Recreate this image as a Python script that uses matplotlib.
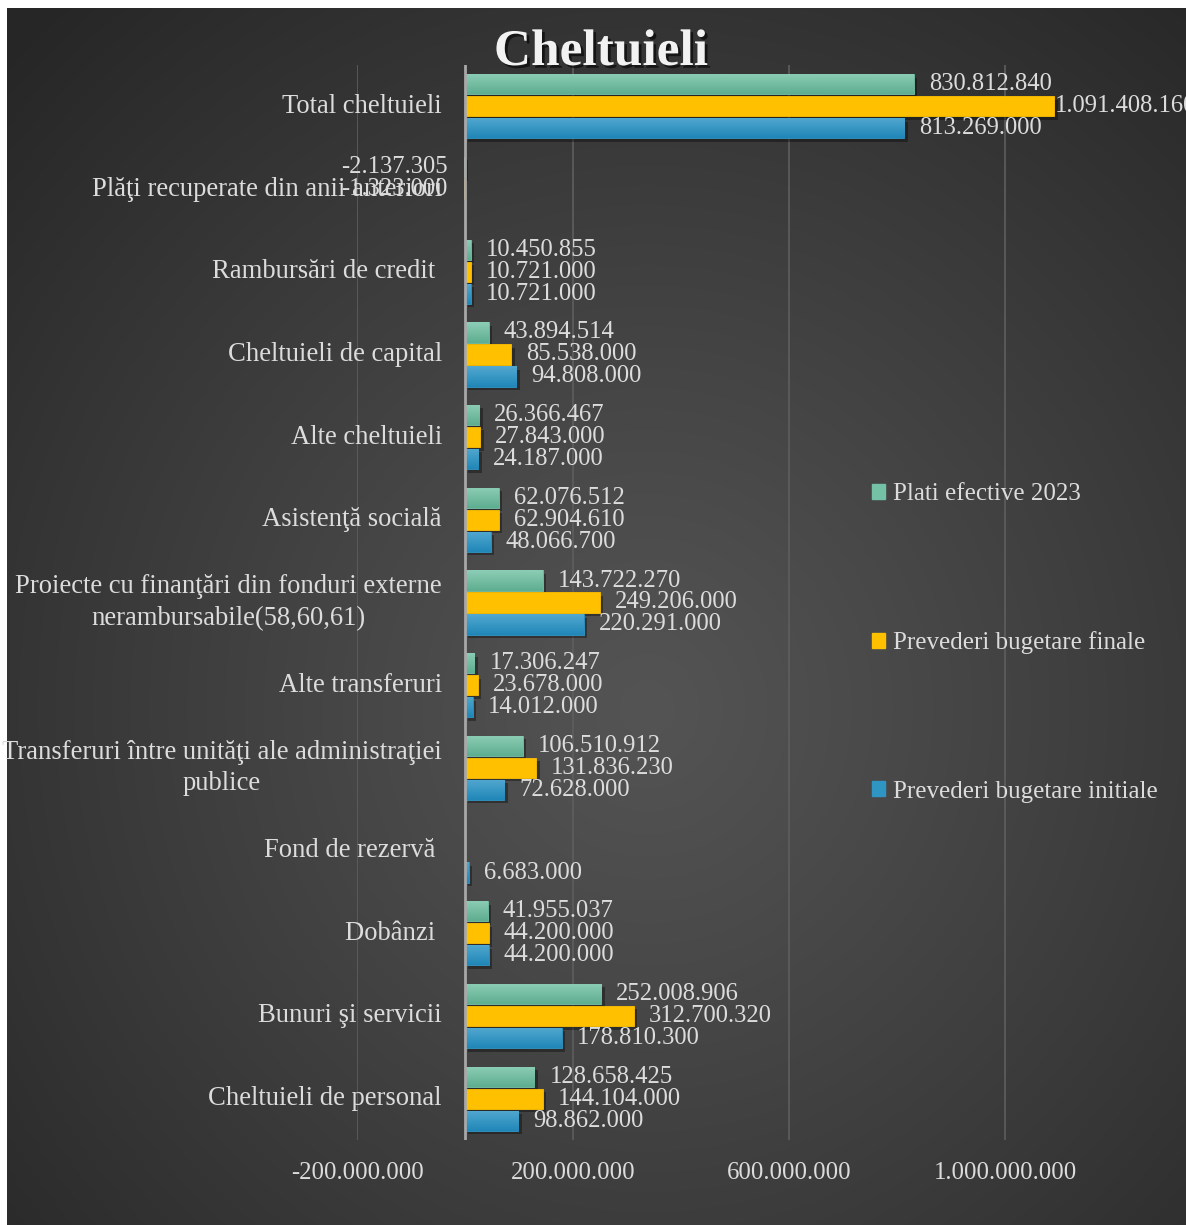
import numpy as np
import matplotlib
matplotlib.use("Agg")
import matplotlib.pyplot as plt
import matplotlib.patheffects as pe
from matplotlib.patches import Patch
from matplotlib.colors import to_rgb

# date din grafic (de jos in sus)
categorii = [
    "Cheltuieli de personal",
    "Bunuri şi servicii",
    "Dobânzi ",
    "Fond de rezervă ",
    "Transferuri între unităţi ale administraţiei\npublice",
    "Alte transferuri",
    "Proiecte cu finanţări din fonduri externe\nnerambursabile(58,60,61)",
    "Asistenţă socială",
    "Alte cheltuieli",
    "Cheltuieli de capital",
    "Rambursări de credit ",
    "Plăţi recuperate din anii anteriori",
    "Total cheltuieli",
]
plati_efective = [128658425, 252008906, 41955037, np.nan, 106510912, 17306247,
                  143722270, 62076512, 26366467, 43894514, 10450855, -2137305, 830812840]
prevederi_finale = [144104000, 312700320, 44200000, np.nan, 131836230, 23678000,
                    249206000, 62904610, 27843000, 85538000, 10721000, -1323000, 1091408160]
prevederi_initiale = [98862000, 178810300, 44200000, 6683000, 72628000, 14012000,
                      220291000, 48066700, 24187000, 94808000, 10721000, np.nan, 813269000]
serii = ["Plati efective 2023", "Prevederi bugetare finale", "Prevederi bugetare initiale"]
culori = ["#74c1a5", "#ffc000", "#2f95c3"]
# gradient sus/jos pentru bare (None = culoare plina)
gradiente = [("#8ccdb5", "#5fae91"), None, ("#52a8d0", "#2187b8")]
x_ticks = [-200000000, 200000000, 600000000, 1000000000]

W, H = 1186, 1225
fig = plt.figure(figsize=(W / 100, H / 100), dpi=100, facecolor="white")
plt.rcParams["font.family"] = ["Liberation Serif", "DejaVu Serif"]
txt = "#dcdcdc"

# fundal cu gradient radial
bg = fig.add_axes([7 / W, 0, 1 - 7 / W, (H - 8) / H])
bg.set_axis_off()
yy, xx = np.mgrid[0:H - 8, 0:W - 7]
d = np.sqrt(((xx - 640) / 1.0) ** 2 + ((yy - 700) / 1.05) ** 2) / 900
d = np.clip(d, 0, 1)
v = (0x54 - (0x54 - 0x26) * d ** 1.1) / 255
bg.imshow(np.dstack([v, v, v]), aspect="auto", interpolation="bilinear")

ax = fig.add_axes([357 / W, (H - 1140) / H, 864 / W, 1075 / H])
ax.patch.set_alpha(0)
for s in ax.spines.values():
    s.set_visible(False)

y = np.arange(len(categorii))
pas = 0.266
inalt = 0.245
umbra = [pe.SimplePatchShadow(offset=(2.5, -2.5), shadow_rgbFace="black", alpha=0.35), pe.Normal()]
date = [plati_efective, prevederi_finale, prevederi_initiale]
vmax = np.nanmax(np.array(date, dtype=float))
for k, (vals, col, nume, grad) in enumerate(zip(date, culori, serii, gradiente)):
    pos = y + pas * (1 - k)
    vals = np.array(vals, dtype=float)
    bars = ax.barh(pos, np.nan_to_num(vals), height=inalt, color=col, label=nume,
                   edgecolor=col, linewidth=0.6, zorder=3)
    for b in bars:
        b.set_path_effects(umbra)
        if grad is not None and b.get_width() != 0:
            sus, jos = np.array(to_rgb(grad[0])), np.array(to_rgb(grad[1]))
            f = np.linspace(0, 1, 32)[:, None, None]
            img = sus * (1 - f) + jos * f
            x0, y0 = b.get_x(), b.get_y()
            im = ax.imshow(img, extent=[x0, x0 + b.get_width(), y0, y0 + b.get_height()],
                           aspect="auto", zorder=3.5, interpolation="bilinear")
            im.set_clip_path(b)
    for p, val in zip(pos, vals):
        if np.isnan(val):
            continue
        eticheta = f"{val:,.0f}".replace(",", ".")
        if val >= 0:
            dx = 0 if val == vmax else 15  # eticheta impinsa spre bara la marginea graficului
            ax.annotate(eticheta, (val, p), xytext=(dx, 0), textcoords="offset pixels",
                        ha="left", va="center", color=txt, fontsize=17.7, zorder=5)
        else:
            ax.annotate(eticheta, (0, p), xytext=(-17, 0), textcoords="offset pixels",
                        ha="right", va="center", color=txt, fontsize=17.7, zorder=5)

for i, c in enumerate(categorii):
    ax.annotate(c, (0, i), xytext=(-23, 0), textcoords="offset pixels", ha="right",
                va="center", multialignment="center", color=txt, fontsize=19.2,
                linespacing=1.33, annotation_clip=False)

ax.set_xlim(-200000000, 1400000000)
ax.set_ylim(-0.5, len(categorii) - 0.5)
ax.set_yticks([])
ax.set_xticks(x_ticks)
ax.set_xticklabels([f"{t:,.0f}".replace(",", ".") for t in x_ticks], color=txt, fontsize=17.8)
ax.tick_params(axis="x", length=0, pad=16)
ax.grid(axis="x", color="#5e5e5e", linewidth=1.2, zorder=0)
ax.axvline(0, color="#a8a8a8", linewidth=2, zorder=4)

t = fig.text(601 / W, 1 - 53 / H, "Cheltuieli", ha="center",
             va="center", fontsize=37, fontweight="bold", color="#f2f2f2")
t.set_path_effects([pe.SimplePatchShadow(offset=(2, -2), shadow_rgbFace="black", alpha=0.6),
                    pe.Normal()])

handles = [Patch(facecolor=c, edgecolor=c) for c in culori]
leg = fig.legend(handles, serii, loc="center left", bbox_to_anchor=(849 / W, 1 - 643 / H),
                 frameon=False, fontsize=18, labelcolor=txt, handlelength=0.55,
                 handleheight=0.55, handletextpad=0.3, labelspacing=5.05)

fig.savefig("out.png", dpi=100, facecolor="white")
